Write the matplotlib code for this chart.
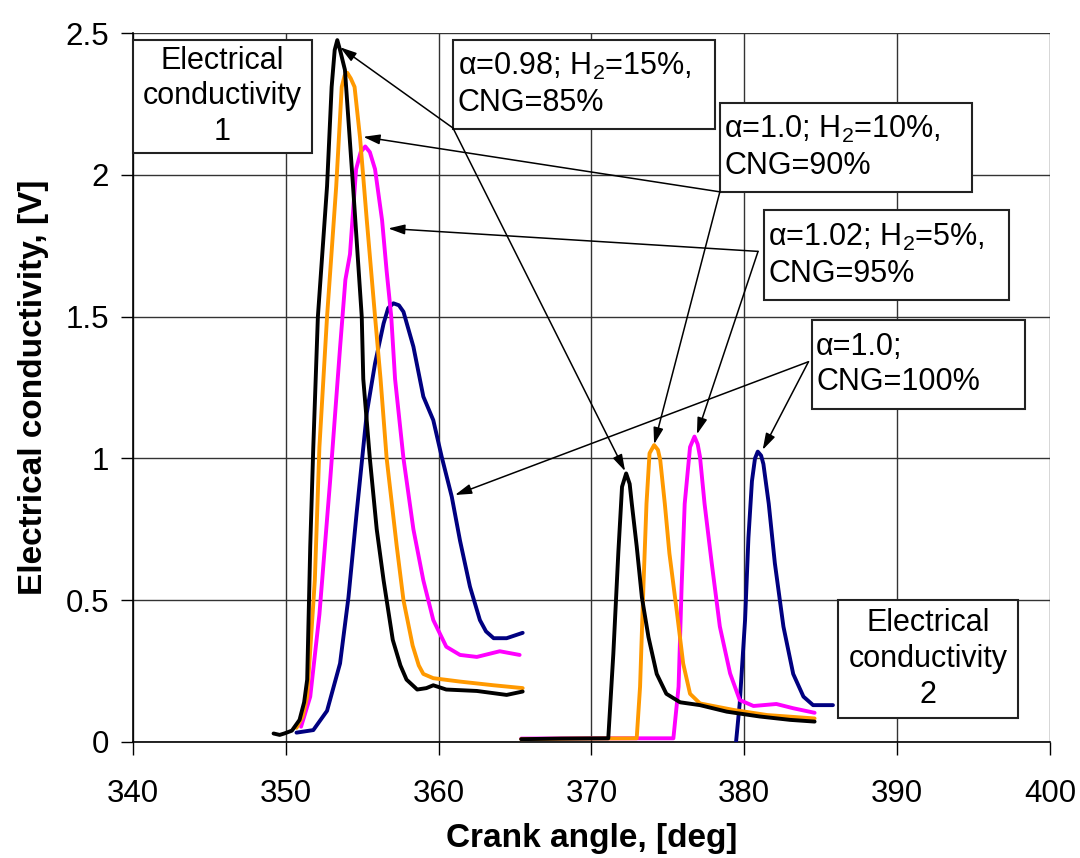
import matplotlib
matplotlib.use("Agg")
import matplotlib.pyplot as plt
from matplotlib.patches import Rectangle

plt.rcParams['font.family'] = ['Liberation Sans', 'DejaVu Sans']
plt.rcParams['mathtext.fontset'] = 'custom'
plt.rcParams['mathtext.rm'] = 'Liberation Sans'

# first peak group (electrical conductivity 1)
black1_x = [349.2, 349.6, 349.9, 350.4, 350.9, 351.2, 351.4, 351.6, 351.8, 352.1, 352.7, 353.0,
            353.2, 353.37, 353.55, 353.87, 354.4, 354.97, 355.07, 355.5, 355.95, 356.4, 357.0,
            357.5, 357.9, 358.6, 359.2, 359.65, 360.5, 362.5, 364.45, 365.5]
black1_y = [0.03, 0.025, 0.03, 0.04, 0.078, 0.14, 0.22, 0.69, 1.04, 1.5, 1.96, 2.31,
            2.44, 2.475, 2.44, 2.37, 1.96, 1.5, 1.28, 1.0, 0.75, 0.57, 0.36,
            0.27, 0.22, 0.185, 0.19, 0.2, 0.185, 0.18, 0.166, 0.178]

orange1_x = [350.7, 351.1, 351.4, 351.9, 352.2, 352.7, 353.3, 353.66, 353.85, 354.02, 354.25,
             354.5, 354.86, 355.3, 355.84, 356.2, 356.6, 357.26, 357.7, 358.3, 358.7, 359.0,
             359.65, 361.4, 363.6, 365.5]
orange1_y = [0.05, 0.09, 0.16, 0.57, 1.04, 1.5, 1.96, 2.31, 2.35, 2.36, 2.34,
             2.31, 2.13, 1.84, 1.5, 1.28, 1.0, 0.69, 0.5, 0.34, 0.27, 0.24,
             0.225, 0.213, 0.2, 0.19]

magenta1_x = [351.0, 351.6, 352.2, 352.9, 353.55, 353.9, 354.2, 354.6, 354.9, 355.2, 355.5,
              355.84, 356.3, 356.6, 356.9, 357.15, 357.7, 358.35, 359.0, 359.65, 360.5, 361.4,
              362.5, 364.0, 365.3]
magenta1_y = [0.054, 0.16, 0.45, 0.92, 1.39, 1.63, 1.72, 2.02, 2.08, 2.10, 2.08,
              2.02, 1.84, 1.66, 1.5, 1.28, 1.0, 0.75, 0.57, 0.43, 0.336, 0.307,
              0.30, 0.32, 0.307]

navy1_x = [350.7, 351.8, 352.7, 353.55, 354.1, 354.64, 355.3, 355.84, 356.4, 356.7, 357.04,
           357.4, 357.7, 358.35, 359.0, 359.65, 360.2, 360.86, 361.4, 362.05, 362.7, 363.1,
           363.6, 364.45, 365.5]
navy1_y = [0.033, 0.042, 0.11, 0.277, 0.51, 0.81, 1.16, 1.335, 1.476, 1.53, 1.547,
           1.54, 1.517, 1.394, 1.218, 1.135, 1.006, 0.865, 0.71, 0.548, 0.43, 0.39,
           0.366, 0.366, 0.385]

# second peak group (electrical conductivity 2)
black2_x = [365.4, 368.0, 371.1, 371.43, 371.76, 372.0, 372.27, 372.5, 372.64, 372.96, 373.3,
            373.73, 374.27, 374.9, 375.8, 377.1, 378.85, 381.0, 383.0, 384.6]
black2_y = [0.01, 0.012, 0.013, 0.31, 0.67, 0.90, 0.947, 0.91, 0.84, 0.69, 0.51,
            0.37, 0.24, 0.17, 0.14, 0.13, 0.107, 0.09, 0.078, 0.072]

orange2_x = [365.4, 369.0, 372.96, 373.18, 373.4, 373.6, 373.8, 374.1, 374.35, 374.5, 374.8,
             375.1, 375.6, 376.0, 376.45, 377.1, 379.3, 381.5, 384.6]
orange2_y = [0.01, 0.012, 0.013, 0.195, 0.55, 0.84, 1.018, 1.047, 1.03, 0.994, 0.84,
             0.665, 0.454, 0.277, 0.17, 0.136, 0.113, 0.095, 0.083]

magenta2_x = [365.4, 370.0, 375.36, 375.7, 375.9, 376.1, 376.45, 376.74, 376.95, 377.1, 377.4,
              377.87, 378.4, 379.07, 379.7, 380.6, 382.1, 383.2, 384.6]
magenta2_y = [0.012, 0.013, 0.013, 0.195, 0.55, 0.84, 1.04, 1.077, 1.05, 1.006, 0.84,
              0.63, 0.407, 0.242, 0.148, 0.127, 0.134, 0.119, 0.103]

navy2_x = [379.46, 379.7, 380.05, 380.27, 380.5, 380.7, 380.88, 381.1, 381.25, 381.6, 382.0,
           382.56, 383.2, 383.87, 384.5, 385.8]
navy2_y = [0.0, 0.136, 0.43, 0.72, 0.92, 1.0, 1.024, 1.01, 0.98, 0.84, 0.63,
           0.407, 0.24, 0.16, 0.13, 0.13]

# drawn bottom to top: navy, magenta, orange, black
series = [
    (navy1_x, navy1_y, '#000080'), (navy2_x, navy2_y, '#000080'),
    (magenta1_x, magenta1_y, '#ff00ff'), (magenta2_x, magenta2_y, '#ff00ff'),
    (orange1_x, orange1_y, '#ff9900'), (orange2_x, orange2_y, '#ff9900'),
    (black1_x, black1_y, 'black'), (black2_x, black2_y, 'black'),
]

x_ticks = [340, 350, 360, 370, 380, 390, 400]
y_ticks = [0, 0.5, 1, 1.5, 2, 2.5]
y_tick_labels = ['0', '0.5', '1', '1.5', '2', '2.5']

fig = plt.figure(figsize=(10.8, 8.58), dpi=100)
ax = fig.add_axes([0.1231, 0.1352, 0.8491, 0.8263])

for xs, ys, c in series:
    ax.plot(xs, ys, color=c, lw=2.8, solid_joinstyle='round', solid_capstyle='round', zorder=3)

ax.set_xlim(340, 400)
ax.set_ylim(0, 2.5)
ax.set_xticks(x_ticks)
ax.set_yticks(y_ticks)
ax.set_yticklabels(y_tick_labels)
ax.grid(True, color='#333333', lw=1.0)
ax.set_axisbelow(True)
for s in ['top', 'right']:
    ax.spines[s].set_visible(False)
for s in ['left', 'bottom']:
    ax.spines[s].set_linewidth(1.2)
ax.tick_params(labelsize=22.5, length=9, width=1.0, direction='out')
ax.tick_params(axis='x', pad=18)
ax.tick_params(axis='y', pad=8)
ax.set_xlabel('Crank angle, [deg]', fontsize=24, fontweight='bold', labelpad=10)
ax.set_ylabel('Electrical conductivity, [V]', fontsize=24, fontweight='bold', labelpad=12)

# text boxes (axes fraction)
boxes = [
    ((0.0, 0.831, 0.195, 0.159), 'Electrical\nconductivity\n1', 'center'),
    ((0.349, 0.865, 0.286, 0.125), '\u03b1=0.98; H$_2$=15%,\nCNG=85%', 'left'),
    ((0.640, 0.776, 0.275, 0.125), '\u03b1=1.0; H$_2$=10%,\nCNG=90%', 'left'),
    ((0.688, 0.623, 0.267, 0.127), '\u03b1=1.02; H$_2$=5%,\nCNG=95%', 'left'),
    ((0.740, 0.470, 0.233, 0.125), '\u03b1=1.0;\nCNG=100%', 'left'),
    ((0.769, 0.034, 0.196, 0.166), 'Electrical\nconductivity\n2', 'center'),
]
for (bx, by, bw, bh), txt, ha in boxes:
    ax.add_patch(Rectangle((bx, by), bw, bh, transform=ax.transAxes, facecolor='white',
                           edgecolor='#222222', lw=1.5, zorder=5, clip_on=False))
    tx = bx + bw / 2 if ha == 'center' else bx + 0.005
    ax.text(tx, by + bh / 2, txt, transform=ax.transAxes, ha=ha, va='center',
            fontsize=22, linespacing=1.25, zorder=6)

# annotation arrows (origin -> target in data coords)
arrows = [
    ((360.94, 2.165), (353.55, 2.45)), ((360.94, 2.165), (372.2, 0.955)),
    ((378.4, 1.94), (355.07, 2.134)), ((378.4, 1.94), (374.1, 1.05)),
    ((380.9, 1.73), (356.7, 1.811)), ((380.9, 1.73), (376.9, 1.085)),
    ((384.2, 1.341), (361.07, 0.871)), ((384.2, 1.341), (381.2, 1.03)),
]
for (x0, y0), (x1, y1) in arrows:
    ax.annotate('', xy=(x1, y1), xytext=(x0, y0),
                arrowprops=dict(arrowstyle='-|>,head_length=1.0,head_width=0.3',
                                color='black', lw=1.1, shrinkA=0, shrinkB=0),
                zorder=7)

fig.savefig('out.png', dpi=100)
